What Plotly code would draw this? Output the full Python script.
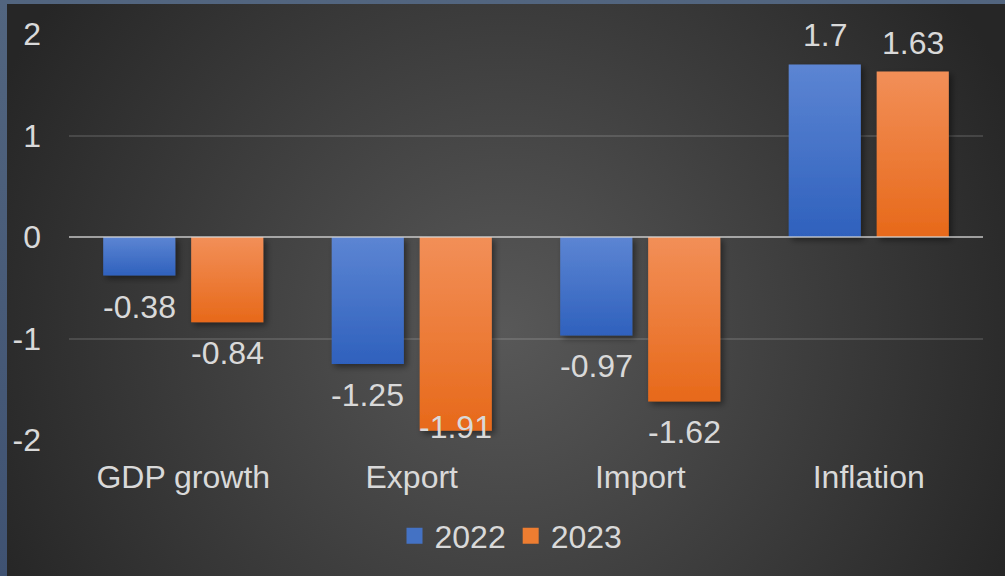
import base64
import plotly.graph_objects as go

# ---- data ---------------------------------------------------------------
categories = ["GDP growth", "Export", "Import", "Inflation"]
series_names = ["2022", "2023"]
values_2022 = [-0.38, -1.25, -0.97, 1.7]
values_2023 = [-0.84, -1.91, -1.62, 1.63]
y_tick_values = [-2, -1, 0, 1, 2]
y_tick_labels = ["-2", "-1", "0", "1", "2"]

# ---- geometry / style ---------------------------------------------------
W, H = 1005, 576
ML, MR, MT, MB = 69, 22, 34, 136
PW = W - ML - MR
PH = H - MT - MB
Y_MIN, Y_MAX = -2, 2
PX_PER_UNIT = PH / (Y_MAX - Y_MIN)

FONT = "Liberation Sans, Arial, sans-serif"
TEXT = "#d9d9d9"
BLUE = "#4472c4"
ORANGE = "#ed7d31"
FONT_SIZE = 32

BAR_GAP = 0.23
BAR_GROUP_GAP = 0.18
CAT_PX = PW / len(categories)
SLOT_PX = CAT_PX * (1 - BAR_GAP) / 2
BAR_CENTER_SHIFT = SLOT_PX / 2          # px from category centre to bar centre

LABEL_GAP_POS = 29                      # label centre above a positive bar end
LABEL_GAP_NEG = 31                      # label centre below a negative bar end
LABEL_INSIDE = 4                        # label kept inside when no room outside

# dark radial backdrop with a slate edge on top and left
bg_svg = f"""<svg xmlns="http://www.w3.org/2000/svg" width="{W}" height="{H}"
 viewBox="0 0 {W} {H}" preserveAspectRatio="none">
<defs>
<radialGradient id="g" gradientUnits="userSpaceOnUse" cx="505" cy="330" r="560">
<stop offset="0" stop-color="#585858"/><stop offset="1" stop-color="#262626"/>
</radialGradient>
<linearGradient id="e" x1="0" y1="0" x2="0" y2="1">
<stop offset="0" stop-color="#52657f"/><stop offset="1" stop-color="#3f5272"/>
</linearGradient>
</defs>
<rect width="{W}" height="{H}" fill="url(#e)"/>
<rect x="7" y="4" width="{W - 7}" height="{H - 4}" fill="url(#g)"/>
</svg>"""
bg_uri = "data:image/svg+xml;base64," + base64.b64encode(bg_svg.encode()).decode()

fig = go.Figure()

for name, vals, color in ((series_names[0], values_2022, BLUE),
                          (series_names[1], values_2023, ORANGE)):
    fig.add_trace(go.Bar(
        x=categories, y=vals, name=name, showlegend=False,
        marker=dict(color=color, line=dict(width=0)),
        hoverinfo="x+y",
    ))

# legend entries with larger square swatches
for name, color in ((series_names[0], BLUE), (series_names[1], ORANGE)):
    fig.add_trace(go.Scatter(
        x=[None], y=[None], mode="markers", name=name,
        marker=dict(symbol="square", size=16, color=color),
    ))

# value labels
annotations = []
for shift, vals in ((-BAR_CENTER_SHIFT, values_2022), (BAR_CENTER_SHIFT, values_2023)):
    for cat, v in zip(categories, vals):
        if v >= 0:
            yshift = LABEL_GAP_POS
        elif v - LABEL_GAP_NEG / PX_PER_UNIT >= Y_MIN:
            yshift = -LABEL_GAP_NEG
        else:
            yshift = LABEL_INSIDE
        annotations.append(dict(
            x=cat, y=v, xref="x", yref="y", xshift=shift, yshift=yshift,
            text=f"{v:g}", showarrow=False, xanchor="center", yanchor="middle",
            font=dict(family=FONT, size=FONT_SIZE, color=TEXT),
        ))

fig.update_layout(
    width=W, height=H,
    margin=dict(l=ML, r=MR, t=MT, b=MB, pad=0, autoexpand=False),
    paper_bgcolor="#262626",
    plot_bgcolor="rgba(0,0,0,0)",
    font=dict(family=FONT, size=FONT_SIZE, color=TEXT),
    barmode="group", bargap=BAR_GAP, bargroupgap=BAR_GROUP_GAP,
    images=[dict(
        source=bg_uri, xref="paper", yref="paper",
        x=-ML / PW, y=1 + MT / PH, sizex=W / PW, sizey=H / PH,
        xanchor="left", yanchor="top", sizing="stretch", layer="below",
    )],
    xaxis=dict(
        showgrid=False, zeroline=False, showline=False, ticks="",
        tickfont=dict(family=FONT, size=FONT_SIZE, color=TEXT),
        ticklabelstandoff=15,
    ),
    yaxis=dict(
        range=[Y_MIN, Y_MAX], tickvals=y_tick_values, ticktext=y_tick_labels,
        showgrid=True, gridcolor="rgba(255,255,255,0.13)", gridwidth=2,
        zeroline=False, showline=False, ticks="",
        tickfont=dict(family=FONT, size=FONT_SIZE, color=TEXT),
        ticklabelstandoff=27,
    ),
    legend=dict(
        orientation="h", x=(511 - ML) / PW, xanchor="center",
        y=-(536 - (MT + PH)) / PH, yanchor="middle",
        bgcolor="rgba(0,0,0,0)",
        font=dict(family=FONT, size=FONT_SIZE, color=TEXT),
    ),
    annotations=annotations,
    shapes=[dict(
        type="line", xref="paper", yref="y", x0=0, x1=1, y0=0, y1=0,
        line=dict(color="rgba(217,217,217,0.6)", width=2), layer="above",
    )],
)

# vertical light-to-dark fill and a soft drop shadow on the bars
post_js = """
(function(){
  var gd = document.getElementById('{plot_id}');
  var ns = 'http://www.w3.org/2000/svg';
  function paint(){
    var svg = gd.querySelector('svg.main-svg');
    if(!svg) return;
    var defs = svg.querySelector('defs');
    function grad(id, c0, c1){
      if(document.getElementById(id)) return;
      var lg = document.createElementNS(ns, 'linearGradient');
      lg.setAttribute('id', id);
      lg.setAttribute('x1', '0'); lg.setAttribute('y1', '0');
      lg.setAttribute('x2', '0'); lg.setAttribute('y2', '1');
      [[0, c0], [1, c1]].forEach(function(s){
        var st = document.createElementNS(ns, 'stop');
        st.setAttribute('offset', s[0]); st.setAttribute('stop-color', s[1]);
        lg.appendChild(st);
      });
      defs.appendChild(lg);
    }
    grad('barFill0', '#5c85d3', '#2f61bd');
    grad('barFill1', '#f28f58', '#e7691a');
    if(!document.getElementById('barShadow')){
      var f = document.createElementNS(ns, 'filter');
      f.setAttribute('id', 'barShadow');
      f.setAttribute('x', '-20%'); f.setAttribute('y', '-20%');
      f.setAttribute('width', '140%'); f.setAttribute('height', '140%');
      var ds = document.createElementNS(ns, 'feDropShadow');
      ds.setAttribute('dx', '3'); ds.setAttribute('dy', '3');
      ds.setAttribute('stdDeviation', '3');
      ds.setAttribute('flood-color', '#000'); ds.setAttribute('flood-opacity', '0.45');
      f.appendChild(ds); defs.appendChild(f);
    }
    var traces = gd.querySelectorAll('.barlayer .trace.bars');
    traces.forEach(function(tr, i){
      tr.querySelectorAll('path').forEach(function(p){
        p.style.fill = 'url(#barFill' + (i % 2) + ')';
        p.setAttribute('filter', 'url(#barShadow)');
      });
    });
  }
  paint();
  gd.on && gd.on('plotly_afterplot', paint);
})();
"""

fig.write_html("out.html", post_script=post_js)
